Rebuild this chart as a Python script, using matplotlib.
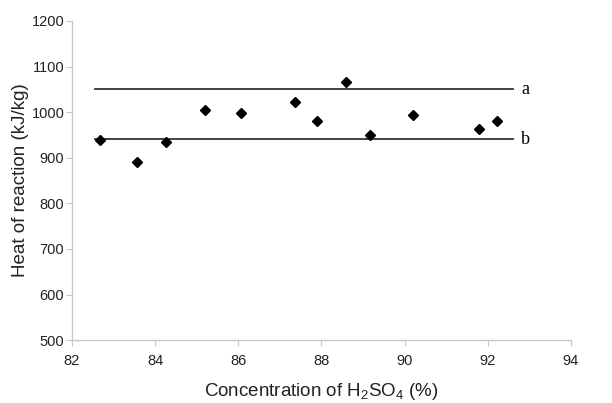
import matplotlib
matplotlib.use("Agg")
import matplotlib.pyplot as plt

conc = [82.67, 83.56, 84.25, 85.2, 86.07, 87.36, 87.9, 88.6, 89.17, 90.19, 91.79, 92.23]
heat = [938, 890, 934, 1004, 999, 1022, 980, 1067, 949, 993, 963, 981]
line_levels = [1050, 941]
line_labels = ["a", "b"]
line_x = [82.55, 92.6]

plt.rcParams['font.family'] = ['Liberation Sans', 'DejaVu Sans']
plt.rcParams['mathtext.fontset'] = 'custom'
plt.rcParams['mathtext.rm'] = 'Liberation Sans'
plt.rcParams['mathtext.it'] = 'Liberation Sans'
fig = plt.figure(figsize=(6.12, 4.03), dpi=100)
ax = fig.add_axes([0.1176, 0.156, 0.8154, 0.792])

for lvl, lab in zip(line_levels, line_labels):
    ax.plot(line_x, [lvl, lvl], color='#333333', lw=1.3)
    ax.text(line_x[1] + 0.2, lvl, lab, family='Liberation Serif', fontsize=13,
            va='center', ha='left')

ax.plot(conc, heat, linestyle='none', marker='D', color='black', markersize=5.5)

ax.set_xlim(82, 94)
ax.set_ylim(500, 1200)
ax.set_xticks(range(82, 95, 2))
ax.set_yticks(range(500, 1201, 100))
for s in ['top', 'right']:
    ax.spines[s].set_visible(False)
for s in ['left', 'bottom']:
    ax.spines[s].set_color('#c8c8c8')
    ax.spines[s].set_linewidth(1.0)
ax.tick_params(axis='both', direction='out', length=4, color='#c8c8c8',
               labelsize=10.5, labelcolor='#222222')
ax.tick_params(axis='y', pad=1.5)
ax.tick_params(axis='x', pad=6)
ax.set_xlabel('Concentration of H$_\\mathregular{2}$SO$_\\mathregular{4}$ (%)', fontsize=13.5,
              labelpad=9, color='#222222')
ax.set_ylabel('Heat of reaction (kJ/kg)', fontsize=13.5, labelpad=2, color='#222222')

fig.savefig('out.png', dpi=100)
